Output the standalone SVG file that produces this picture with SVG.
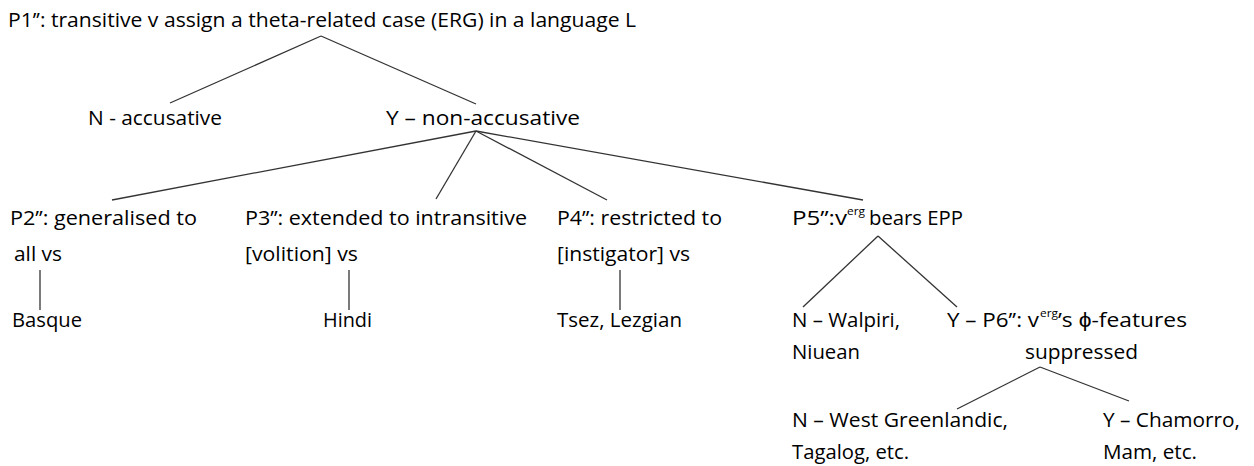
<svg xmlns="http://www.w3.org/2000/svg" width="1254" height="466" viewBox="0 0 1254 466">
<style>
text{font-family:"Open Sans","Liberation Sans",sans-serif;font-size:20px;fill:#000}
.sup{font-size:11px}
#connectors line{stroke:#333;stroke-width:1.3;fill:none}
</style>
<rect width="1254" height="466" fill="#fff"/>
<g id="connectors">
<line x1="321" y1="36" x2="170" y2="103"/>
<line x1="321" y1="36" x2="476" y2="104"/>
<line x1="476" y1="131" x2="112" y2="200"/>
<line x1="476" y1="131" x2="436" y2="199"/>
<line x1="476" y1="131" x2="607" y2="200"/>
<line x1="476" y1="131" x2="863" y2="200"/>
<line x1="40" y1="270" x2="40" y2="310"/>
<line x1="349" y1="270" x2="349" y2="310"/>
<line x1="620" y1="270" x2="620" y2="310"/>
<line x1="878" y1="236" x2="803" y2="307"/>
<line x1="878" y1="236" x2="957" y2="307"/>
<line x1="1040" y1="367" x2="957" y2="409"/>
<line x1="1040" y1="367" x2="1129" y2="401"/>
</g>
<g id="p1"><text x="8" y="27" textLength="628" lengthAdjust="spacingAndGlyphs">P1’’: transitive v assign a theta-related case (ERG) in a language L</text></g>
<g id="n-acc"><text x="88" y="125" textLength="134" lengthAdjust="spacingAndGlyphs">N - accusative</text></g>
<g id="y-nonacc"><text x="386" y="125" textLength="194" lengthAdjust="spacingAndGlyphs">Y – non-accusative</text></g>
<g id="p2">
<text x="10" y="225" textLength="187" lengthAdjust="spacingAndGlyphs">P2’’: generalised to</text>
<text x="14" y="261" textLength="48" lengthAdjust="spacingAndGlyphs">all vs</text>
</g>
<g id="basque"><text x="12" y="327" textLength="70" lengthAdjust="spacingAndGlyphs">Basque</text></g>
<g id="p3">
<text x="245" y="225" textLength="282" lengthAdjust="spacingAndGlyphs">P3’’: extended to intransitive</text>
<text x="245" y="261" textLength="113" lengthAdjust="spacingAndGlyphs">[volition] vs</text>
</g>
<g id="hindi"><text x="323" y="327" textLength="49" lengthAdjust="spacingAndGlyphs">Hindi</text></g>
<g id="p4">
<text x="557" y="225" textLength="165" lengthAdjust="spacingAndGlyphs">P4’’: restricted to</text>
<text x="557" y="261" textLength="133" lengthAdjust="spacingAndGlyphs">[instigator] vs</text>
</g>
<g id="tsez"><text x="557" y="327" textLength="125" lengthAdjust="spacingAndGlyphs">Tsez, Lezgian</text></g>
<g id="p5">
<text x="792" y="225" textLength="55" lengthAdjust="spacingAndGlyphs">P5’’:v</text>
<text class="sup" x="847" y="215" textLength="18" lengthAdjust="spacingAndGlyphs">erg</text>
<text x="869" y="225" textLength="94" lengthAdjust="spacingAndGlyphs">bears EPP</text>
</g>
<g id="n-walpiri">
<text x="792" y="327" textLength="108" lengthAdjust="spacingAndGlyphs">N – Walpiri,</text>
<text x="792" y="359" textLength="68" lengthAdjust="spacingAndGlyphs">Niuean</text>
</g>
<g id="p6">
<text x="947" y="327" textLength="92" lengthAdjust="spacingAndGlyphs">Y – P6’’: v</text>
<text class="sup" x="1040" y="317" textLength="18" lengthAdjust="spacingAndGlyphs">erg</text>
<text x="1058" y="327" textLength="129" lengthAdjust="spacingAndGlyphs">’s ϕ-features</text>
<text x="1025" y="359" textLength="113" lengthAdjust="spacingAndGlyphs">suppressed</text>
</g>
<g id="n-wg">
<text x="792" y="427" textLength="216" lengthAdjust="spacingAndGlyphs">N – West Greenlandic,</text>
<text x="792" y="459" textLength="117" lengthAdjust="spacingAndGlyphs">Tagalog, etc.</text>
</g>
<g id="y-cham">
<text x="1103" y="427" textLength="137" lengthAdjust="spacingAndGlyphs">Y – Chamorro,</text>
<text x="1103" y="459" textLength="94" lengthAdjust="spacingAndGlyphs">Mam, etc.</text>
</g>
</svg>
